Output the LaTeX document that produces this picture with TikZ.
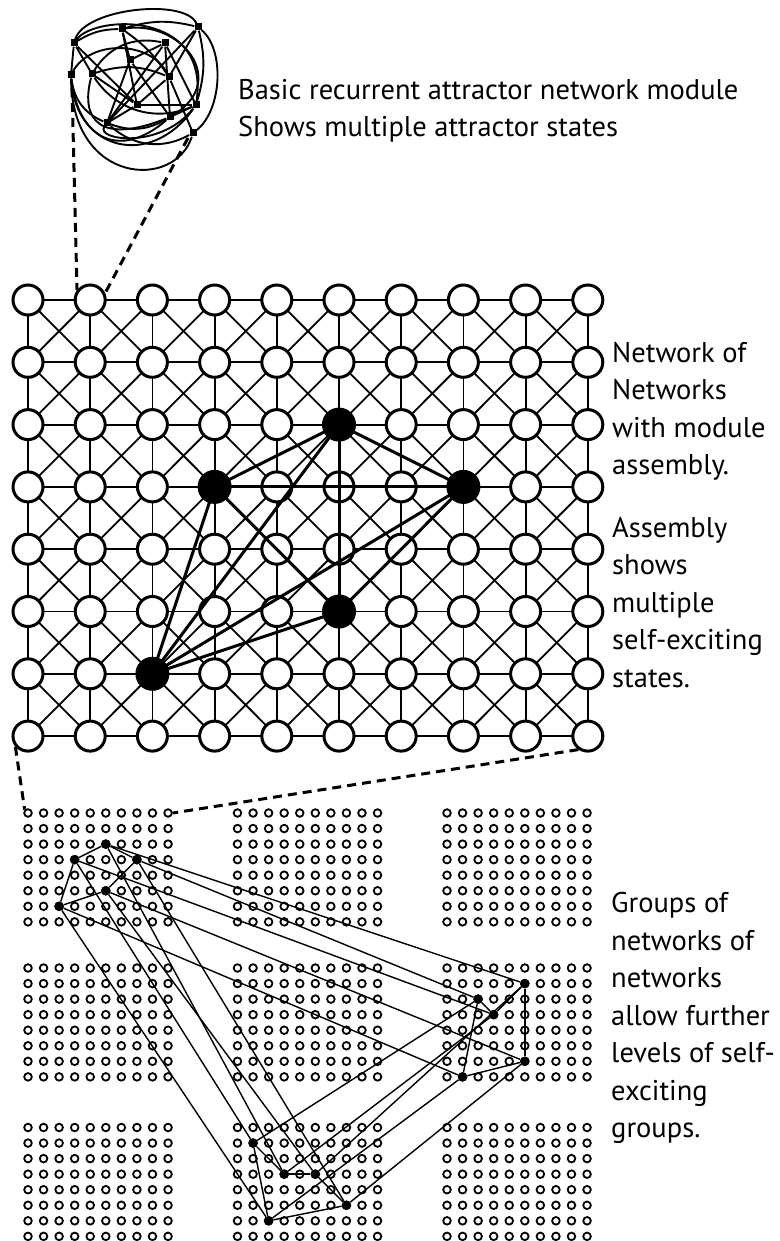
\documentclass[tikz,border=0pt]{standalone}
\usepackage{fontspec}
\setmainfont{PT Sans}
\begin{document}
\begin{tikzpicture}[x=1pt,y=-1pt,
  gridline/.style={line width=1.8pt},
  bigring/.style={circle,draw,line width=3pt,fill=white,minimum size=30pt,inner sep=0pt},
  bigdot/.style={circle,draw,line width=3pt,fill=black,minimum size=31pt,inner sep=0pt},
  assembly/.style={line width=3pt},
  ring/.style={circle,draw,line width=1.8pt,minimum size=7.6pt,inner sep=0pt},
  dot/.style={circle,fill=black,minimum size=9.5pt,inner sep=0pt},
  link/.style={line width=1.4pt},
  sq/.style={rectangle,fill=black,minimum size=7pt,inner sep=0pt},
  mod/.style={line width=1.9pt},
  zoomline/.style={line width=3pt,dash pattern=on 9pt off 6pt},
  caption/.style={font=\fontsize{28.5}{37.5}\selectfont,align=left,inner sep=0pt,anchor=north west}]

\useasboundingbox (0,0) rectangle (779,1241);

% ---------- single recurrent module ----------
\foreach \n/\x/\y in {1/74/43, 2/122/29, 3/198/27, 4/165/43, 5/130/60, 6/92/74,
  7/169/77, 8/137/105, 9/196/105, 10/170/117, 11/107/123, 12/71/75, 13/193/133}
  \node[sq] (m\n) at (\x,\y) {};

\draw[mod] (m1) to[bend left=15] (m2);
\draw[mod] (m2) to[bend left=15] (m3);
\draw[mod] (m1) .. controls (85,8) and (185,-2) .. (m3);
\draw[mod] (m1) .. controls (95,15) and (210,10) .. (m9);
\draw[mod] (m3) .. controls (225,50) and (222,110) .. (m13);
\draw[mod] (m2) .. controls (180,20) and (230,80) .. (m10);
\draw[mod] (m12) .. controls (72,185) and (175,190) .. (m13);
\draw[mod] (m12) .. controls (75,150) and (150,170) .. (m9);
\draw[mod] (m12) .. controls (78,140) and (120,160) .. (m10);
\draw[mod] (m1) -- (m12);
\draw[mod] (m1) -- (m6);
\draw[mod] (m1) -- (m8);
\draw[mod] (m2) -- (m5);
\draw[mod] (m2) -- (m8);
\draw[mod] (m2) to[bend left=10] (m7);
\draw[mod] (m5) -- (m4);
\draw[mod] (m4) -- (m10);
\draw[mod] (m4) -- (m9);
\draw[mod] (m4) -- (m11);
\draw[mod] (m3) -- (m7);
\draw[mod] (m3) to[bend left=15] (m9);
\draw[mod] (m3) -- (m11);
\draw[mod] (m6) -- (m8);
\draw[mod] (m6) to[bend left=20] (m7);
\draw[mod] (m6) to[bend left=35] (m4);
\draw[mod] (m5) -- (m11);
\draw[mod] (m5) -- (m10);
\draw[mod] (m7) -- (m8);
\draw[mod] (m7) -- (m13);
\draw[mod] (m8) -- (m11);
\draw[mod] (m8) -- (m9);
\draw[mod] (m11) to[bend right=25] (m10);
\draw[mod] (m10) -- (m9);
\draw[mod] (m6) to[bend right=40] (m9);
\draw[mod] (m12) to[bend right=30] (m11);
\draw[mod] (m11) to[bend right=35] (m13);
\draw[mod] (m6) .. controls (80,120) and (100,145) .. (m10);
\draw[mod] (m12) .. controls (90,40) and (150,40) .. (m7);
\draw[mod] (m11) .. controls (95,140) and (160,150) .. (m9);

% ---------- network of networks ----------
\foreach \c in {0,...,9}
  \foreach \r in {0,...,7}
    \coordinate (p-\c-\r) at ({28+62.2*\c},{300+62.3*\r});

\foreach \c [count=\cn] in {0,...,8}
  \foreach \r in {0,...,7}
    \draw[gridline] (p-\c-\r) -- (p-\cn-\r);
\foreach \c in {0,...,9}
  \foreach \r [count=\rn] in {0,...,6}
    \draw[gridline] (p-\c-\r) -- (p-\c-\rn);
\foreach \c [count=\cn] in {0,...,8}
  \foreach \r [count=\rn] in {0,...,6} {
    \draw[gridline] (p-\c-\r) -- (p-\cn-\rn);
    \draw[gridline] (p-\cn-\r) -- (p-\c-\rn);
  }

\foreach \c in {0,...,9}
  \foreach \r in {0,...,7}
    \node[bigring] (n-\c-\r) at (p-\c-\r) {};

% one self-exciting assembly
\coordinate (fa) at (p-5-2);
\coordinate (fb) at (p-3-3);
\coordinate (fc) at (p-7-3);
\coordinate (fd) at (p-5-5);
\coordinate (fe) at (p-2-6);
\foreach \u/\v in {fa/fb, fa/fc, fa/fd, fa/fe, fb/fc, fb/fd, fb/fe, fc/fd, fc/fe, fd/fe}
  \draw[assembly] (\u) -- (\v);
\foreach \u in {fa,fb,fc,fd,fe}
  \node[bigdot] (F\u) at (\u) {};

% ---------- groups of networks of networks ----------
\foreach \gx/\ox in {0/28,1/237.5,2/447}
  \foreach \gy/\oy in {0/813,1/968,2/1127.5}
    \foreach \c in {0,...,9}
      \foreach \r in {0,...,7}
        \node[ring] (g\gx\gy-\c-\r) at ({\ox+15.56*\c},{\oy+15.55*\r}) {};

% active units in three groups
\node[dot] (A1) at (g00-5-2) {};
\node[dot] (B1) at (g00-3-3) {};
\node[dot] (C1) at (g00-7-3) {};
\node[dot] (D1) at (g00-5-5) {};
\node[dot] (E1) at (g00-2-6) {};

\node[dot] (P1) at (g21-5-1) {};
\node[dot] (P2) at (g21-2-2) {};
\node[dot] (P3) at (g21-3-3) {};
\node[dot] (P4) at (g21-5-6) {};
\node[dot] (P5) at (g21-1-7) {};

\node[dot] (Q1) at (g12-1-1) {};
\node[dot] (Q2) at (g12-3-3) {};
\node[dot] (Q3) at (g12-5-3) {};
\node[dot] (Q4) at (g12-7-5) {};
\node[dot] (Q5) at (g12-2-6) {};

\foreach \u/\v in {A1/B1, A1/C1, B1/E1, E1/D1, D1/C1,
                   P1/P3, P2/P3, P1/P4, P2/P5, P5/P4,
                   Q1/Q2, Q2/Q3, Q1/Q5, Q5/Q4, Q3/Q4,
                   A1/Q2, B1/Q1, C1/Q4, D1/Q3, E1/Q5,
                   A1/P1, C1/P2, B1/P3, D1/P4, E1/P5,
                   Q1/P2, Q2/P3, Q3/P1, Q4/P4, Q5/P5}
  \draw[link] (\u) -- (\v);

% ---------- zoom indicators ----------
\coordinate (modL) at (72,88);
\coordinate (modR) at (188,138);
\draw[zoomline] (modL) -- (n-1-0.143);
\draw[zoomline] (modR) -- (n-1-0.25);
\draw[zoomline] (n-0-7.220) -- (g00-0-0.north west);
\draw[zoomline] (n-9-7.235) -- (g00-9-0.east);

% ---------- captions ----------
\node[caption] (t1) at (238,79) {Basic recurrent attractor network module\\Shows multiple attractor states};
\node[caption] (t2) at (612,342) {Network of\\Networks\\with module\\assembly.};
\node[caption] (t3) at (612,517) {Assembly\\shows\\multiple\\self-exciting\\states.};
\node[caption] (t4) at (611,892) {Groups of\\networks of\\networks\\allow further\\levels of self-\\exciting\\groups.};
\end{tikzpicture}
\end{document}
